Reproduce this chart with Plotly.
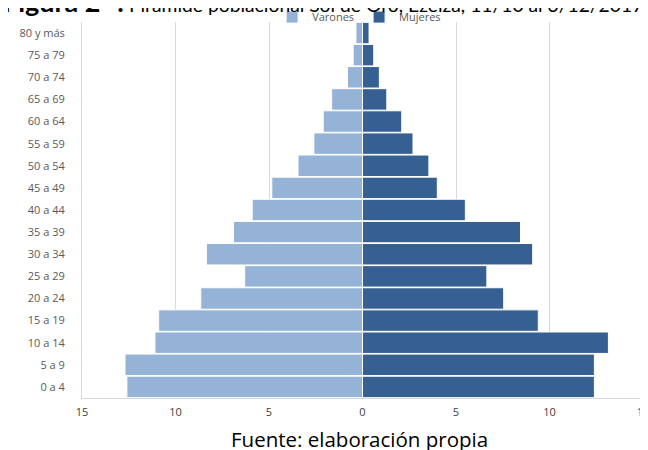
import plotly.graph_objects as go

categories = ["0 a 4", "5 a 9", "10 a 14", "15 a 19", "20 a 24", "25 a 29", "30 a 34",
              "35 a 39", "40 a 44", "45 a 49", "50 a 54", "55 a 59", "60 a 64",
              "65 a 69", "70 a 74", "75 a 79", "80 y más"]
varones = [12.6, 12.7, 11.1, 10.9, 8.65, 6.3, 8.35, 6.9, 5.9, 4.85, 3.45, 2.6, 2.1,
           1.65, 0.8, 0.5, 0.35]
mujeres = [12.4, 12.4, 13.15, 9.4, 7.55, 6.65, 9.1, 8.45, 5.5, 4.0, 3.55, 2.7, 2.1,
           1.3, 0.9, 0.6, 0.35]
tick_vals = [-15, -10, -5, 0, 5, 10, 15]
tick_text = ["15", "10", "5", "0", "5", "10", "15"]

title_bold = "Figura 2 -:"
title_rest = "Pirámide poblacional Sol de Oro, Ezeiza, 11/10 al 3/12/2017"
source = "Fuente: elaboración propia"

OS = "Open Sans, Liberation Sans, sans-serif"
LT = "Lato, Liberation Sans, sans-serif"

fig = go.Figure()
fig.add_trace(go.Bar(
    y=categories, x=[-v for v in varones], name="Varones", orientation="h",
    marker=dict(color="#95B3D7", line=dict(color="#FFFFFF", width=1)),
    customdata=varones, hovertemplate="%{y}: %{customdata}<extra>Varones</extra>"))
fig.add_trace(go.Bar(
    y=categories, x=mujeres, name="Mujeres", orientation="h",
    marker=dict(color="#366092", line=dict(color="#FFFFFF", width=1)),
    hovertemplate="%{y}: %{x}<extra>Mujeres</extra>"))

fig.update_layout(
    width=648, height=450,
    margin=dict(l=74, r=13, t=14, b=60, autoexpand=False),
    barmode="relative", bargap=0.03,
    paper_bgcolor="white", plot_bgcolor="white",
    font=dict(family=OS, color="#595959"),
    showlegend=True,
    legend=dict(orientation="h", x=0.494, xanchor="center", y=1.013, yanchor="middle",
                font=dict(size=11, color="#595959", family=OS), itemwidth=30,
                bgcolor="rgba(0,0,0,0)"),
    annotations=[
        dict(text=f"<span style='font-size:27px'><b>{title_bold}</b></span> {title_rest}",
             xref="paper", yref="paper", x=1.0036, y=1.054,
             xanchor="right", yanchor="middle", showarrow=False,
             font=dict(size=19.3, color="#000000", family=LT)),
        dict(text=source, xref="paper", yref="paper", x=0.4938, y=-0.109,
             xanchor="center", yanchor="middle", showarrow=False,
             font=dict(size=20.5, color="#000000", family=OS)),
    ],
)
fig.update_xaxes(
    range=[-15, 15], tickvals=tick_vals, ticktext=tick_text, automargin=False,
    showgrid=True, gridcolor="#D9D9D9", gridwidth=1,
    zeroline=True, zerolinecolor="#D9D9D9", zerolinewidth=1,
    showline=True, linecolor="#D9D9D9", linewidth=1,
    tickfont=dict(size=11, color="#404040", family=OS),
    ticklabelstandoff=4, fixedrange=True)
fig.update_yaxes(
    type="category", categoryorder="array", categoryarray=categories, automargin=False,
    showline=True, mirror=True, linecolor="#D9D9D9", linewidth=1,
    showgrid=False, ticks="", ticklabelstandoff=14,
    tickfont=dict(size=11, color="#595959", family=OS),
    fixedrange=True)

fig.write_html("out.html")
